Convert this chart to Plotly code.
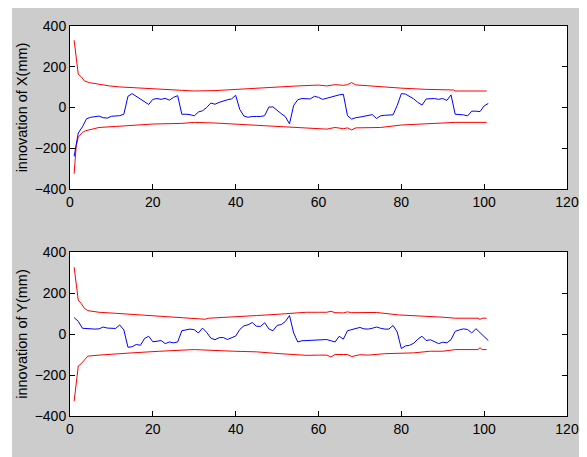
import plotly.graph_objects as go
from plotly.subplots import make_subplots

# ---------------- data ----------------
steps = list(range(1, 102))

innov_x = [-240, -125, -95, -55, -48, -45, -42, -50, -52, -43,
           -42, -40, -33, 55, 68, 55, 42, 25, 15, 40,
           44, 40, 45, 36, 50, 58, -33, -33, -35, -41,
           -22, -16, 0, 22, 16, 25, 32, 38, 42, 60,
           -10, -42, -48, -44, -44, -44, -40, 2, 3, -15,
           -30, -45, -80, 10, 38, 44, 43, 42, 55, 50,
           40, 46, 50, 55, 62, 65, -40, -57, -50, -47,
           -42, -38, -35, -54, -41, -38, -37, -36, 10, 68,
           66, 55, 42, 25, 12, 42, 44, 44, 40, 44,
           35, 62, -33, -33, -36, -41, -18, -18, -20, 8,
           20]

innov_y = [80, 62, 28, 26, 24, 24, 25, 34, 29, 29,
           27, 44, 20, -65, -62, -51, -55, -22, -11, -38,
           -35, -32, -47, -39, -43, -39, 16, 21, 24, 21,
           5, 29, 8, -20, -28, -18, -17, -27, -20, -10,
           22, 40, 45, 56, 38, 37, 55, 25, 16, 42,
           46, 61, 90, 5, -39, -33, -32, -31, -28, -27,
           -27, -27, -33, -39, -11, -25, 16, 21, 28, 32,
           25, 24, 28, 34, 28, 24, 24, 42, 10, -71,
           -58, -55, -45, -25, -11, -32, -28, -38, -47, -40,
           -43, -28, 13, 20, 25, 22, 5, 26, 8, -14,
           -32]

bx_up_t = [1, 1.5, 2, 2.7, 3.5, 4.7, 7, 9.5, 12, 15, 19, 23, 27, 30, 35, 40, 45,
           50, 55, 60, 62, 64, 66, 67, 68, 69, 72, 75, 80, 86, 90, 92.6, 93, 100.6]
bx_up_v = [330, 236, 163, 151, 130, 122, 114, 106, 101, 98, 93, 89, 85, 81, 83, 89, 95,
           102, 106, 110, 106, 112, 109, 112, 122, 111, 106, 101, 95, 89, 86, 86, 81, 81]

bx_lo_t = [1, 1.5, 2, 3, 3.8, 7, 11, 15, 20, 27, 30, 35, 40, 45, 50, 55, 60, 62,
           64, 66, 67, 68, 69, 75, 80, 86, 90, 92.6, 93, 100.6]
bx_lo_v = [-325, -187, -146, -122, -114, -98, -93, -89, -81, -78, -73, -76, -81, -89,
           -94, -98, -102, -106, -98, -104, -100, -110, -100, -98, -86, -81, -76, -76, -73, -73]

by_up_t = [1, 1.5, 2, 2.7, 3.5, 4.3, 7, 11, 15, 17.6, 21.7, 25.6, 30, 32.6, 33.5, 39.5,
           45, 50, 53, 57, 60, 62, 63, 64, 66, 67, 68, 70, 72, 74, 79.4, 83.4, 87.4, 90,
           93, 98.5, 99, 99.5, 100.6]
by_up_v = [326, 238, 165, 149, 125, 114, 106, 101, 96, 90, 85, 80, 77, 72, 77, 82,
           90, 96, 100, 106, 106, 106, 111, 104, 103, 108, 104, 105, 103, 105, 93, 90, 85, 82,
           77, 77, 71, 77, 77]

by_lo_t = [1, 1.5, 2, 2.7, 3.5, 4.3, 7, 11, 15, 21.7, 30, 39.5, 45, 50, 57, 60, 62, 63,
           64, 66, 67, 68, 70, 72, 74, 76, 83, 87, 90, 93, 98.5, 99, 99.5, 100.6]
by_lo_v = [-328, -228, -156, -145, -124, -108, -103, -96, -92, -84, -76, -84, -87, -95,
           -104, -103, -103, -112, -100, -100, -100, -110, -101, -103, -99, -96, -92, -84,
           -84, -76, -76, -67, -76, -76]

x_ticks = [0, 20, 40, 60, 80, 100, 120]
y_ticks = [-400, -200, 0, 200, 400]
y_titles = ["innovation of X(mm)", "innovation of Y(mm)"]

# ---------------- figure ----------------
fig = make_subplots(rows=2, cols=1, vertical_spacing=0.0)

RED = "#FF0000"
BLUE = "#0000FF"

series = [
    (1, steps, innov_x, bx_up_t, bx_up_v, bx_lo_t, bx_lo_v),
    (2, steps, innov_y, by_up_t, by_up_v, by_lo_t, by_lo_v),
]
for row, t, v, ut, uv, lt, lv in series:
    fig.add_trace(go.Scatter(x=ut, y=uv, mode="lines", line=dict(color=RED, width=1),
                             showlegend=False), row=row, col=1)
    fig.add_trace(go.Scatter(x=lt, y=lv, mode="lines", line=dict(color=RED, width=1),
                             showlegend=False), row=row, col=1)
    fig.add_trace(go.Scatter(x=t, y=v, mode="lines", line=dict(color=BLUE, width=1),
                             showlegend=False), row=row, col=1)

FONT = "Liberation Sans, Arial, sans-serif"
axis_common = dict(showline=True, linecolor="#000000", linewidth=1, mirror="ticks",
                   ticks="inside", ticklen=5, tickcolor="#000000", showgrid=False,
                   zeroline=False, automargin=False,
                   tickfont=dict(family=FONT, size=14, color="#000000"))

for row, dom in [(1, [0.582, 1.0]), (2, [0.0, 0.4205])]:
    fig.update_xaxes(range=[0, 120], tickvals=x_ticks, row=row, col=1, **axis_common)
    fig.update_yaxes(range=[-400, 400], tickvals=y_ticks, domain=dom,
                     title=dict(text=y_titles[row - 1], standoff=3,
                                font=dict(family=FONT, size=14.5, color="#000000")),
                     row=row, col=1, **axis_common)

# thin white strip at the left of the gray figure area
shapes = [
    dict(type="rect", xref="paper", yref="paper", x0=-0.2, x1=-0.1167, y0=-0.2, y1=1.2,
         fillcolor="white", line=dict(width=0), layer="below"),
]

fig.update_layout(
    width=579, height=449,
    margin=dict(l=62, r=20, t=18, b=41),
    paper_bgcolor="#CCCCCC",
    plot_bgcolor="#FFFFFF",
    shapes=shapes,
    font=dict(family=FONT, size=14, color="#000000"),
)

fig.write_html("out.html")
